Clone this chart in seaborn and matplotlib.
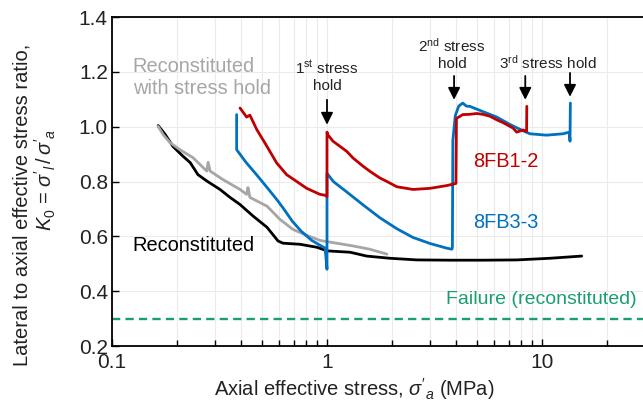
import numpy as np
import pandas as pd
import matplotlib
matplotlib.use("Agg")
import matplotlib.pyplot as plt
import seaborn as sns
from matplotlib.ticker import LogLocator, NullFormatter

# ---------------- data ----------------
recon_x = [0.164, 0.177, 0.192, 0.214, 0.231, 0.251, 0.277, 0.318, 0.354, 0.394,
           0.453, 0.526, 0.592, 0.624, 0.749, 0.899, 1.0, 1.28, 1.53, 1.96,
           2.62, 3.73, 5.31, 7.65, 10.9, 15.3]
recon_y = [1.004, 0.971, 0.928, 0.892, 0.869, 0.825, 0.801, 0.771, 0.742, 0.716,
           0.674, 0.633, 0.583, 0.575, 0.571, 0.560, 0.547, 0.542, 0.528, 0.520,
           0.514, 0.513, 0.513, 0.514, 0.520, 0.528]

hold_x = [0.164, 0.173, 0.186, 0.207, 0.238, 0.276, 0.280, 0.286, 0.328, 0.394,
          0.423, 0.429, 0.438, 0.526, 0.604, 0.695, 0.804, 0.928, 1.32, 1.58, 1.90]
hold_y = [1.001, 0.971, 0.942, 0.916, 0.887, 0.838, 0.870, 0.838, 0.807, 0.771,
          0.753, 0.778, 0.742, 0.710, 0.662, 0.625, 0.604, 0.585, 0.565, 0.553, 0.535]

fb33_x = [0.380, 0.380, 0.42, 0.47, 0.524, 0.583, 0.624, 0.69, 0.76, 0.85, 0.93, 0.98,
          1.0, 1.0, 1.07, 1.235, 1.47, 1.76, 2.11, 2.51, 3.01, 3.60, 3.81,
          3.83, 3.85, 3.95, 4.10, 4.28, 4.45, 4.62, 5.31, 6.16, 7.10, 8.16, 8.80,
          10.5, 12.5, 13.4, 13.5, 13.55]
fb33_y = [1.044, 0.916, 0.870, 0.825, 0.780, 0.735, 0.704, 0.655, 0.618, 0.585, 0.567, 0.557,
          0.480, 0.830, 0.800, 0.762, 0.715, 0.668, 0.628, 0.596, 0.574, 0.557, 0.553,
          0.560, 0.950, 1.040, 1.075, 1.086, 1.075, 1.074, 1.055, 1.035, 1.008, 0.985, 0.974,
          0.969, 0.974, 0.980, 0.947, 1.086]

fb12_x = [0.394, 0.423, 0.438, 0.471, 0.524, 0.583, 0.649, 0.723, 0.805, 0.928, 0.979,
          1.0, 1.0, 1.01, 1.066, 1.235, 1.32, 1.47, 1.585, 1.76, 1.89, 2.11, 2.51,
          3.01, 3.60, 3.98, 4.0, 4.28, 4.62, 4.96, 5.31, 5.73, 6.16, 6.58, 7.33,
          7.63, 8.16, 8.48, 8.50]
fb12_y = [1.068, 1.035, 1.042, 0.990, 0.930, 0.868, 0.825, 0.800, 0.775, 0.753, 0.750,
          0.745, 0.980, 0.970, 0.947, 0.910, 0.886, 0.856, 0.837, 0.813, 0.801, 0.781, 0.771,
          0.775, 0.785, 0.793, 1.030, 1.044, 1.045, 1.048, 1.045, 1.038, 1.025, 1.015, 0.995,
          0.980, 0.988, 0.983, 1.074]

failure_k0 = 0.3

hold_arrow_x = [1.0, 3.90, 8.36, 13.5]
hold_arrow_top = [1.098, 1.185, 1.185, 1.196]
hold_arrow_tip = [1.007, 1.098, 1.098, 1.109]

# ---------------- style ----------------
sns.set_theme(style="white")
plt.rcParams['font.family'] = ['Liberation Sans', 'DejaVu Sans']
plt.rcParams['mathtext.fontset'] = 'custom'
plt.rcParams['mathtext.rm'] = 'Liberation Sans'
plt.rcParams['mathtext.it'] = 'Liberation Sans:italic'
plt.rcParams['mathtext.bf'] = 'Liberation Sans:bold'

RED = "#c00000"
BLUE = "#0070c0"
GRAY = "#a6a6a6"
GREEN = "#1b9e6e"

fig = plt.figure(figsize=(6.43, 4.04), dpi=100)
ax = fig.add_axes([112 / 643, 58 / 404, 531 / 643, 329 / 404])

series = [
    (recon_x, recon_y, "black"),
    (hold_x, hold_y, GRAY),
    (fb33_x, fb33_y, BLUE),
    (fb12_x, fb12_y, RED),
]
for xs, ys, col in series:
    df = pd.DataFrame({"stress": xs, "k0": ys})
    sns.lineplot(data=df, x="stress", y="k0", sort=False, estimator=None,
                 color=col, lw=2.0, ax=ax)

ax.axhline(failure_k0, color=GREEN, lw=1.7, ls=(0, (3.5, 2.2)))

ax.set_xscale("log")
ax.set_xlim(0.1, 29.5)
ax.set_ylim(0.2, 1.4)

ax.set_xticks([0.1, 1, 10])
ax.set_xticklabels(["0.1", "1", "10"])
ax.xaxis.set_minor_locator(LogLocator(base=10, subs=np.arange(2, 10)))
ax.xaxis.set_minor_formatter(NullFormatter())
yt = np.round(np.arange(0.2, 1.41, 0.2), 1)
ax.set_yticks(yt)
ax.set_yticklabels([f"{v:.1f}" for v in yt])

ax.tick_params(which="both", direction="in", color="black", bottom=True, left=True,
               top=False, right=False)
ax.tick_params(which="major", length=5, width=1.0, labelsize=15, pad=5)
ax.tick_params(axis="y", which="major", pad=3)
ax.tick_params(which="minor", length=4, width=1.0)
for lab in ax.get_xticklabels() + ax.get_yticklabels():
    lab.set_color("#222222")

ax.grid(True, which="both", axis="x", color="#ebebeb", lw=0.8)
ax.grid(True, which="major", axis="y", color="#ebebeb", lw=0.8)
ax.set_axisbelow(True)

for side in ["left", "bottom", "top"]:
    ax.spines[side].set_visible(True)
    ax.spines[side].set_color("black")
    ax.spines[side].set_linewidth(1.3)
ax.spines["right"].set_visible(False)

ax.set_xlabel(r"Axial effective stress, $\sigma'_a$ (MPa)", fontsize=14.5, color="#222222",
              va="center")
ax.xaxis.set_label_coords(0.456, -0.13)
ax.set_ylabel("Lateral to axial effective stress ratio,", fontsize=14.5, color="#222222",
              va="center")
ax.yaxis.set_label_coords(-0.1695, 0.43)
ax.text(-0.126, 0.505, r"$K_0$ = $\sigma'_l\,/\,\sigma'_a$", transform=ax.transAxes,
        rotation=90, ha="center", va="center", rotation_mode="anchor",
        fontsize=14.5, color="#222222")

# stress hold annotations
for xa, yt0, yt1 in zip(hold_arrow_x, hold_arrow_top, hold_arrow_tip):
    ax.annotate("", xy=(xa, yt1), xytext=(xa, yt0),
                arrowprops=dict(arrowstyle="-|>,head_width=0.3,head_length=0.6",
                                color="black", lw=1.3, shrinkA=0, shrinkB=0))
ax.text(1.0, 1.185, "1$^{\\rm st}$ stress\nhold", ha="center", va="center",
        fontsize=11, color="#222222", linespacing=1.15)
ax.text(3.81, 1.265, "2$^{\\rm nd}$ stress\nhold", ha="center", va="center",
        fontsize=11, color="#222222", linespacing=1.15)
ax.text(10.66, 1.233, "3$^{\\rm rd}$ stress hold", ha="center", va="center",
        fontsize=11, color="#222222")

# series labels
ax.text(0.125, 1.18, "Reconstituted\nwith stress hold", ha="left", va="center",
        fontsize=14.4, color=GRAY, linespacing=1.2)
ax.text(0.125, 0.565, "Reconstituted", ha="left", va="center", fontsize=14.4, color="black")
ax.text(4.78, 0.873, "8FB1-2", ha="left", va="center", fontsize=14.4, color=RED)
ax.text(4.78, 0.651, "8FB3-3", ha="left", va="center", fontsize=14.4, color=BLUE)
ax.text(27.7, 0.371, "Failure (reconstituted)", ha="right", va="center",
        fontsize=14, color=GREEN)

fig.savefig("out.png", dpi=100)
